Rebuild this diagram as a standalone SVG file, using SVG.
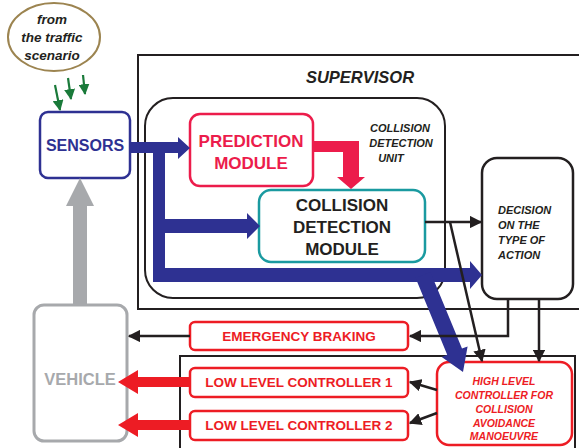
<svg xmlns="http://www.w3.org/2000/svg" width="579" height="448" viewBox="0 0 579 448">
<defs>
<style>
.t{font-family:"Liberation Sans",Arial,sans-serif;font-weight:bold;text-anchor:middle}
.i{font-style:italic}
.blk{fill:none;stroke:#231f20;stroke-width:2}
.red{fill:#fff;stroke:#ed1c24;stroke-width:2.5}
.ln{fill:none;stroke:#231f20;stroke-width:2.5}
.gr{stroke:#1a7a3a;stroke-width:2.2}
</style>
<marker id="ah" viewBox="0 0 10 10" refX="9" refY="5" markerWidth="5" markerHeight="5" orient="auto" markerUnits="strokeWidth">
<path d="M0,0 L10,5 L0,10 z" fill="#231f20"/>
</marker>
<marker id="ag" viewBox="0 0 10 10" refX="9" refY="5" markerWidth="5" markerHeight="5" orient="auto" markerUnits="strokeWidth">
<path d="M0,0 L10,5 L0,10 z" fill="#1a7a3a"/>
</marker>
</defs>
<rect width="579" height="448" fill="#fff"/>

<g id="supervisor">
<rect x="138" y="55" width="460" height="254" class="blk"/>
<text x="360" y="83" class="t i" font-size="16.5" fill="#231f20">SUPERVISOR</text>
</g>
<g id="lowerbox">
<rect x="180" y="356" width="395" height="110" class="blk"/>
</g>
<g id="cdu">
<rect x="145" y="98" width="300" height="200" rx="28" class="blk"/>
<text class="t i" font-size="11" fill="#231f20"><tspan x="400" y="132">COLLISION</tspan><tspan x="401" y="147">DETECTION</tspan><tspan x="391" y="162">UNIT</tspan></text>
</g>

<g id="cloud">
<ellipse cx="54" cy="37" rx="46" ry="34" fill="#fff" stroke="#9c8450" stroke-width="2"/>
<text class="t i" font-size="13.5" fill="#231f20"><tspan x="52" y="24">from</tspan><tspan x="52" y="42">the traffic</tspan><tspan x="52" y="60">scenario</tspan></text>
</g>

<g id="sensors">
<rect x="40" y="112" width="90" height="66" rx="8" fill="#fff" stroke="#2e3192" stroke-width="2.5"/>
<text x="85" y="151" class="t" font-size="16" fill="#2e3192">SENSORS</text>
</g>

<g id="vehicle">
<rect x="34" y="305" width="93" height="136" rx="10" fill="#fff" stroke="#a7a9ac" stroke-width="3"/>
<text x="80" y="385" class="t" font-size="16.5" fill="#a7a9ac">VEHICLE</text>
</g>

<g id="prediction">
<rect x="190" y="114" width="123" height="72" rx="10" fill="#fff" stroke="#ec1c4b" stroke-width="2.5"/>
<text class="t" font-size="17" fill="#ec1c4b"><tspan x="251" y="147">PREDICTION</tspan><tspan x="251" y="169">MODULE</tspan></text>
</g>

<g id="cdm">
<rect x="259" y="190" width="166" height="72" rx="12" fill="#fff" stroke="#1a9aa0" stroke-width="2.5"/>
<text class="t" font-size="17" fill="#231f20"><tspan x="342" y="211">COLLISION</tspan><tspan x="342" y="233">DETECTION</tspan><tspan x="342" y="255">MODULE</tspan></text>
</g>

<g id="decision">
<rect x="482" y="158" width="91" height="141" rx="15" fill="#fff" stroke="#231f20" stroke-width="2.5"/>
<text class="t i" font-size="11" fill="#231f20" style="text-anchor:start"><tspan x="498" y="214">DECISION</tspan><tspan x="498" y="229">ON THE</tspan><tspan x="498" y="244">TYPE OF</tspan><tspan x="498" y="259">ACTION</tspan></text>
</g>

<g id="emergency">
<rect x="190" y="322" width="218" height="28" rx="5" class="red"/>
<text x="299" y="341" class="t" font-size="13.5" fill="#ed1c24">EMERGENCY BRAKING</text>
</g>
<g id="llc1">
<rect x="190" y="368" width="218" height="29" rx="5" class="red"/>
<text x="299" y="387" class="t" font-size="13.5" fill="#ed1c24">LOW LEVEL CONTROLLER 1</text>
</g>
<g id="llc2">
<rect x="190" y="411" width="218" height="29" rx="5" class="red"/>
<text x="299" y="430" class="t" font-size="13.5" fill="#ed1c24">LOW LEVEL CONTROLLER 2</text>
</g>
<g id="hlc">
<rect x="437" y="362" width="135" height="83" rx="12" class="red"/>
<text class="t i" font-size="10.5" fill="#ed1c24"><tspan x="504" y="385">HIGH LEVEL</tspan><tspan x="504" y="399">CONTROLLER FOR</tspan><tspan x="504" y="413">COLLISION</tspan><tspan x="504" y="427">AVOIDANCE</tspan><tspan x="504" y="440">MANOEUVRE</tspan></text>
</g>

<g id="connectors">
<line x1="55" y1="85" x2="60" y2="110" class="gr" marker-end="url(#ag)"/>
<line x1="68" y1="78" x2="71" y2="99" class="gr" marker-end="url(#ag)"/>
<line x1="83" y1="75" x2="85" y2="94" class="gr" marker-end="url(#ag)"/>
<polygon points="73,305 73,206 66,206 80,178 94,206 87,206 87,305" fill="#a7a9ac"/>
<path d="M130,142 H178 V137 L190,148 L178,159 V153 H165 V219 H247 V213 L260,226 L247,239 V233 H165 V268 H470 V261 L482,275 L470,289 V282 H153 V153 H130 Z" fill="#2e3192"/>
<polygon points="430.4,272 462,348.6 467.6,346.4 463,372 441.7,357 447.2,354.8 415.6,278" fill="#2e3192"/>
<polygon points="313,141 359,141 359,177 365,177 351,189 337,177 343,177 343,152 313,152" fill="#ec1c4b"/>
<line x1="425" y1="222" x2="481" y2="222" class="ln" marker-end="url(#ah)"/>
<line x1="450" y1="222" x2="482" y2="361" class="ln" marker-end="url(#ah)"/>
<polyline points="508,299 508,336 410,336" class="ln" marker-end="url(#ah)"/>
<line x1="539" y1="299" x2="539" y2="361" class="ln" marker-end="url(#ah)"/>
<line x1="190" y1="336" x2="129" y2="336" class="ln" marker-end="url(#ah)"/>
<line x1="437" y1="390" x2="410" y2="382" class="ln" marker-end="url(#ah)"/>
<line x1="437" y1="413" x2="410" y2="423" class="ln" marker-end="url(#ah)"/>
<polygon points="190,377 138,377 138,370 118,382 138,394 138,387 190,387" fill="#ed1c24"/>
<polygon points="190,420 138,420 138,413 118,425 138,437 138,430 190,430" fill="#ed1c24"/>
</g>
</svg>
